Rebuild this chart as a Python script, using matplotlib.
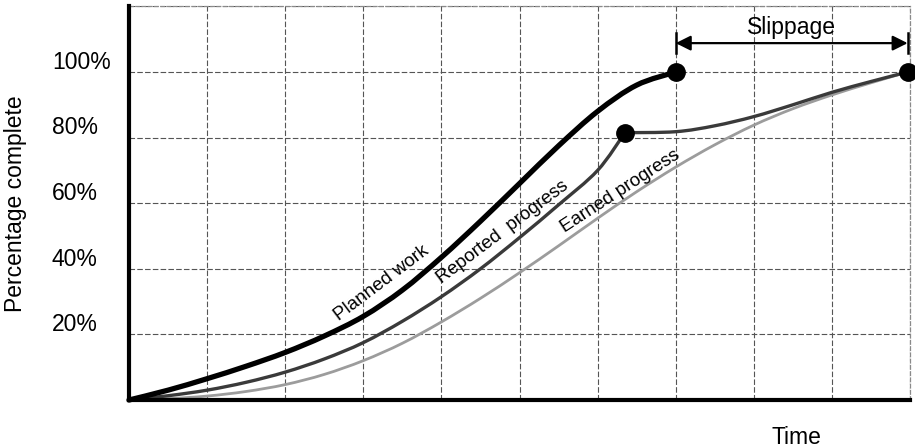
import matplotlib
matplotlib.use("Agg")
import numpy as np
import matplotlib.pyplot as plt
from matplotlib.path import Path
from matplotlib.patches import PathPatch
from matplotlib.transforms import offset_copy

plt.rcParams["font.family"] = ["Liberation Sans", "DejaVu Sans"]

# Planned work (S-curve up to the planned finish)
planned_time = [0, 0.5, 1, 1.5, 2, 2.5, 3, 3.5, 4, 4.5, 5, 5.5, 6, 6.5, 7]
planned_pct = [0, 3, 6.5, 10.3, 14.5, 19.5, 25.5, 33.5, 43.5, 54.5, 66, 77.5, 88, 96, 100]

# Reported progress: climbs to a false peak ...
reported_rise_time = [0, 0.5, 1, 1.5, 2, 2.5, 3, 3.5, 4, 4.5, 5, 5.5, 6, 6.35]
reported_rise_pct = [0, 1.3, 3, 5.4, 8.5, 12.5, 17.5, 24, 31.5, 40, 49.5, 59.5, 70, 81.5]
# ... then crawls on to the real finish
reported_tail_time = [6.35, 7, 7.5, 8, 8.5, 9, 9.5, 9.97]
reported_tail_pct = [81.5, 81.8, 83.6, 86.4, 90, 93.8, 97.1, 100]

# Earned progress
earned_time = [0, 0.5, 1, 1.5, 2, 2.5, 3, 3.5, 4, 4.5, 5, 5.5, 6, 6.5, 7, 7.5,
               8, 8.5, 9, 9.5, 9.97]
earned_pct = [0, 0.4, 1.2, 2.6, 4.7, 7.8, 12, 17.3, 23.8, 31, 38.8, 47, 55.4, 63.5, 71,
              77.8, 83.8, 88.8, 93, 96.7, 100]

# Key points
planned_finish = (7.0, 100)
reported_peak = (6.35, 81.5)
actual_finish = (9.97, 100)

y_ticks = [20, 40, 60, 80, 100]
y_tick_labels = ["20%", "40%", "60%", "80%", "100%"]
x_grid = list(range(0, 11))
y_grid = [0, 20, 40, 60, 80, 100, 120]


def smooth_path(xs, ys):
    """Catmull-Rom curve through the given points, as cubic Bezier segments."""
    p = np.column_stack([xs, ys]).astype(float)
    ext = np.vstack([p[0], p, p[-1]])
    verts = [p[0]]
    codes = [Path.MOVETO]
    for i in range(1, len(ext) - 2):
        p0, p1, p2, p3 = ext[i - 1], ext[i], ext[i + 1], ext[i + 2]
        verts += [p1 + (p2 - p0) / 6, p2 - (p3 - p1) / 6, p2]
        codes += [Path.CURVE4] * 3
    return Path(verts, codes)


def draw_curve(ax, xs, ys, **kw):
    patch = PathPatch(smooth_path(xs, ys), fill=False, capstyle="round",
                      joinstyle="round", clip_on=False, **kw)
    ax.add_patch(patch)


fig = plt.figure(figsize=(9.15, 4.48), dpi=100)
ax = fig.add_axes([129 / 915, 1 - 400 / 448, (910 - 129) / 915, (400 - 6.4) / 448])
ax.set_xlim(0, 10)
ax.set_ylim(0, 120)

# grid
ax.set_xticks(x_grid)
ax.set_yticks(y_grid)
ax.tick_params(length=0, labelleft=False, labelbottom=False)
ax.grid(True, color="#555555", lw=0.8, linestyle=(0, (5, 2)))

for side in ("top", "right"):
    ax.spines[side].set_color("#8a8a8a")
    ax.spines[side].set_linewidth(0.9)
    ax.spines[side].set_linestyle((0, (3, 2)))
ax.spines["left"].set_linewidth(3.0)
ax.spines["bottom"].set_linewidth(3.0)
ax.spines["left"].set_zorder(5)
ax.spines["bottom"].set_zorder(5)

# curves
draw_curve(ax, earned_time, earned_pct, edgecolor="#9c9c9c", lw=2.0, zorder=3)
draw_curve(ax, reported_rise_time, reported_rise_pct, edgecolor="#3a3a3a", lw=2.4, zorder=3)
draw_curve(ax, reported_tail_time, reported_tail_pct, edgecolor="#3a3a3a", lw=2.4, zorder=3)
draw_curve(ax, planned_time, planned_pct, edgecolor="black", lw=3.8, zorder=4)

# milestone markers
for px, py in (planned_finish, reported_peak, actual_finish):
    ax.plot([px], [py], "o", color="black", markersize=12.5, zorder=6, clip_on=False)

# curve labels
ax.text(3.235, 35.6, "Planned work", rotation=37, rotation_mode="anchor",
        ha="center", va="center", fontsize=13.5)
ax.text(4.79, 51.3, "Reported  progress", rotation=37, rotation_mode="anchor",
        ha="center", va="center", fontsize=13.5)
ax.text(6.29, 63.8, "Earned progress", rotation=33, rotation_mode="anchor",
        ha="center", va="center", fontsize=13.5)

# slippage span
slip_y = 108.8
ax.annotate("", xy=(planned_finish[0], slip_y), xytext=(actual_finish[0], slip_y),
            arrowprops=dict(arrowstyle="<|-|>,head_length=0.6,head_width=0.3",
                            color="black", lw=1.6, shrinkA=0, shrinkB=0,
                            mutation_scale=15),
            annotation_clip=False)
for bx in (planned_finish[0], actual_finish[0]):
    ax.plot([bx, bx], [105.8, 111.9], color="black", lw=1.8, clip_on=False, zorder=6)
ax.text((planned_finish[0] + actual_finish[0]) / 2, 113.6, "Slippage",
        ha="center", va="center", fontsize=16.5)

# y tick labels (left aligned, sitting just above their grid lines)
lbl_tr = offset_copy(ax.get_yaxis_transform(), fig=fig, x=0, y=7, units="points")
for v, s in zip(y_ticks, y_tick_labels):
    ax.text(-0.0986, v, s, transform=lbl_tr, ha="left", va="center", fontsize=16.5)

fig.text(16 / 915, 1 - 204 / 448, "Percentage complete", rotation=90,
         ha="center", va="center", fontsize=16.5)
fig.text(796 / 915, 1 - 437 / 448, "Time", ha="center", va="center", fontsize=16.5)

fig.savefig("out.png", dpi=100)
